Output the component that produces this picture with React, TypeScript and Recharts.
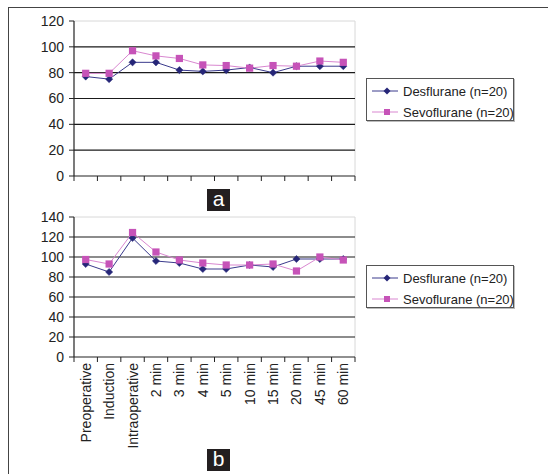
import React from 'react';
import { LineChart, Line, XAxis, YAxis, ReferenceLine, Legend } from 'recharts';

const categories = ['Preoperative', 'Induction', 'Intraoperative', '2 min', '3 min', '4 min', '5 min', '10 min', '15 min', '20 min', '45 min', '60 min'];
const desA = [77, 75, 88, 88, 82, 81, 82, 84, 80, 85, 85, 85];
const sevoA = [79.5, 79.5, 97, 93, 91, 86, 85.5, 83.5, 85.5, 85, 89, 88];
const desB = [93, 85, 119, 96, 94, 88, 88, 92, 90, 98, 98, 98];
const sevoB = [97.5, 93, 124.5, 105, 97, 94, 92, 92, 93, 86, 100, 97];
const ticksA = [0, 20, 40, 60, 80, 100, 120];
const ticksB = [0, 20, 40, 60, 80, 100, 120, 140];
const gridA = [20, 40, 60, 80, 100];
const gridB = [20, 40, 60, 80, 100, 120];
const seriesNames = ['Desflurane (n=20)', 'Sevoflurane (n=20)'];

const FONT = '"Liberation Sans", Arial, sans-serif';
const DES_COLOR = '#262678';
const DES_LINE = '#3a3a8c';
const SEVO_COLOR = '#c653b8';
const SEVO_LINE = '#d987d0';

const boundaries = categories.map((_, i) => i).concat([categories.length]);
const centers = categories.map((_, i) => i + 0.5);
const allXTicks = boundaries.concat(centers).sort((a, b) => a - b);

const build = (d: number[], s: number[]) =>
  categories.map((c, i) => ({ x: i + 0.5, cat: c, des: d[i], sevo: s[i] }));

const dataA = build(desA, sevoA);
const dataB = build(desB, sevoB);

const Diamond = (p: any) => {
  const { cx, cy, index } = p;
  if (cx == null || cy == null) return <g key={index} />;
  const r = 3.6;
  return <polygon key={index} points={`${cx},${cy - r} ${cx + r},${cy} ${cx},${cy + r} ${cx - r},${cy}`} fill={DES_COLOR} stroke={DES_COLOR} strokeWidth={0.5} />;
};
const Square = (p: any) => {
  const { cx, cy, index } = p;
  if (cx == null || cy == null) return <g key={index} />;
  const r = 3.6;
  return <rect key={index} x={cx - r} y={cy - r} width={2 * r} height={2 * r} fill={SEVO_COLOR} />;
};

const LegendBox = () => (
  <div style={{ width: 146, height: 41, border: '1px solid #555', background: '#fff', fontFamily: FONT, fontSize: 13, color: '#222', boxShadow: '1px 1px 0 #bbb' }}>
    {seriesNames.map((n, i) => (
      <div key={n} style={{ display: 'flex', alignItems: 'center', height: 20, marginTop: i === 0 ? 2 : 1 }}>
        <svg width={36} height={12} style={{ flex: 'none' }}>
          <line x1={5} y1={6} x2={31} y2={6} stroke={i === 0 ? DES_LINE : SEVO_LINE} strokeWidth={1} />
          {i === 0 ? (
            <polygon points="20,2.5 23.5,6 20,9.5 16.5,6" fill={DES_COLOR} />
          ) : (
            <rect x={17} y={3} width={6} height={6} fill={SEVO_COLOR} />
          )}
        </svg>
        <span style={{ whiteSpace: 'nowrap' }}>{n}</span>
      </div>
    ))}
  </div>
);

const makeXTick = (labels: boolean) => (p: any) => {
  const { x, y, payload } = p;
  const v = payload.value;
  if (Number.isInteger(v)) {
    return <line x1={x} y1={y} x2={x} y2={y + 5} stroke="#222" strokeWidth={1} />;
  }
  if (!labels) return <g />;
  const idx = Math.round(v - 0.5);
  const ty = y + 6;
  return (
    <text x={x} y={ty} transform={`rotate(-90 ${x} ${ty})`} textAnchor="end" dy="0.36em" fontSize={14} fill="#222" fontFamily={FONT}>
      {categories[idx]}
    </text>
  );
};

const Panel = (props: { data: any[]; yTicks: number[]; grid: number[]; max: number; height: number; top: number; labels: boolean; legendTop: number; axisH: number }) => {
  const { data, yTicks, grid, max, height, top, labels, legendTop, axisH } = props;
  return (
    <LineChart width={548} height={height} data={data} margin={{ top, right: 193, left: 0, bottom: 0 }}>
      <XAxis
        type="number"
        dataKey="x"
        domain={[0, 12]}
        ticks={allXTicks}
        interval={0}
        tickSize={0}
        tickMargin={0}
        height={axisH}
        axisLine={{ stroke: '#222', strokeWidth: 1.2 }}
        tickLine={false}
        tick={makeXTick(labels)}
      />
      <YAxis
        type="number"
        domain={[0, max]}
        ticks={yTicks}
        width={74}
        tickSize={5}
        tickMargin={5}
        interval={0}
        axisLine={{ stroke: '#222', strokeWidth: 1.2 }}
        tickLine={{ stroke: '#222' }}
        tick={{ fontSize: 14, fill: '#222', fontFamily: FONT }}
      />
      <ReferenceLine y={max} stroke="#d8d8d8" strokeWidth={1} />
      <ReferenceLine x={12} stroke="#d8d8d8" strokeWidth={1} />
      {grid.map((g) => (
        <ReferenceLine key={g} y={g} stroke="#1a1a1a" strokeWidth={1.2} />
      ))}
      <Line dataKey="des" name={seriesNames[0]} stroke={DES_LINE} strokeWidth={1} dot={Diamond} activeDot={false} isAnimationActive={false} />
      <Line dataKey="sevo" name={seriesNames[1]} stroke={SEVO_LINE} strokeWidth={1} dot={Square} activeDot={false} isAnimationActive={false} />
      <Legend layout="horizontal" verticalAlign="middle" align="center" content={() => <LegendBox />} wrapperStyle={{ position: 'absolute', left: 366, top: legendTop, width: 148, margin: 0 }} />
    </LineChart>
  );
};

const TagBox = (props: { letter: string; left: number; top: number }) => (
  <div style={{ position: 'absolute', left: props.left, top: props.top, width: 23, height: 22, background: '#231f20', color: '#fff', fontFamily: FONT, fontSize: 21, lineHeight: '20px', textAlign: 'center' }}>
    {props.letter}
  </div>
);

export default function App() {
  return (
    <div style={{ position: 'absolute', left: 0, top: 0, width: 548, height: 474, background: '#fff', overflow: 'hidden' }}>
      <div style={{ position: 'absolute', left: 8, top: 7, width: 560, height: 480, borderLeft: '1.5px solid #444', borderTop: '1.5px solid #444' }} />
      <div style={{ position: 'absolute', left: 0, top: 0 }}>
        <Panel data={dataA} yTicks={ticksA} grid={gridA} max={120} height={200} top={21} labels={false} legendTop={78} axisH={24} />
      </div>
      <div style={{ position: 'absolute', left: 0, top: 200 }}>
        <Panel data={dataB} yTicks={ticksB} grid={gridB} max={140} height={274} top={17} labels={true} legendTop={65} axisH={117} />
      </div>
      <TagBox letter="a" left={207} top={189} />
      <TagBox letter="b" left={207} top={449} />
    </div>
  );
}
